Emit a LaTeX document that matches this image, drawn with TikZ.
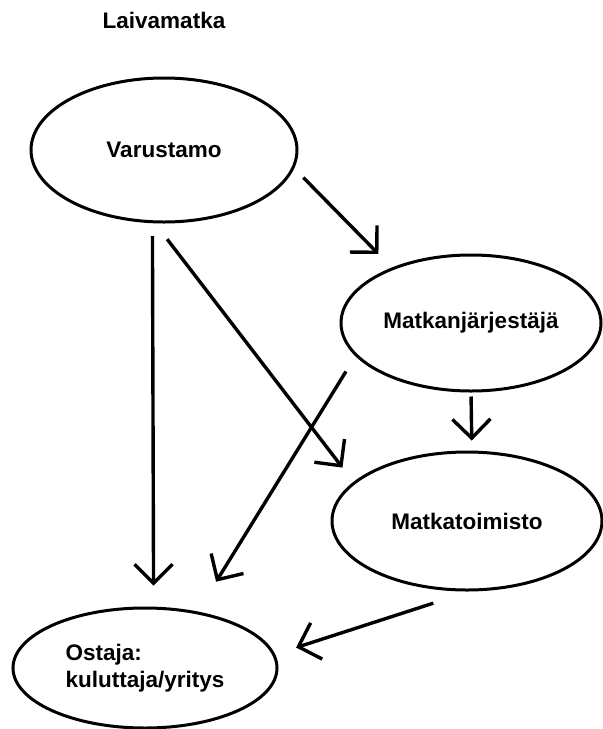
\documentclass[tikz,border=0pt]{standalone}
\usepackage{fontspec}
\setmainfont{Liberation Sans}
\usetikzlibrary{shapes,positioning}
\usetikzlibrary{arrows.meta}
\tikzset{>={Straight Barb[width=19pt,length=9.5pt]}}

\begin{document}
\begin{tikzpicture}[x=0.5pt, y=-0.5pt]
          \tikzstyle{enode} = [draw, line width=1.5pt, ellipse, inner sep=0pt, align=center, font=\bfseries\fontsize{11.25}{13.5}\selectfont]
          \tikzstyle{tnode} = [inner sep=1.5pt, align=left, font=\bfseries\fontsize{11.25}{13.5}\selectfont]
          \tikzstyle{conn} = [->, line width=1.7pt]
          \useasboundingbox (0,0) rectangle (603,729);
          \node[enode, minimum width=133pt, minimum height=72pt] (var) at (164,150) {Varustamo};
          \node[tnode, above = 22pt of var] (title) {Laivamatka};
          \node[enode, minimum width=130pt, minimum height=68pt] (mj) at (471,323) {Matkanjärjestäjä};
          \node[enode, minimum width=135pt, minimum height=69pt] (mt) at (467,521) {Matkatoimisto};
          \node[enode, minimum width=132pt, minimum height=60pt, align=left] (os) at (145,668) {Ostaja:\\kuluttaja/yritys};

          \draw[conn, shorten <=6.5pt, shorten >=9.5pt] (var.-8) -- (mj.145);
          \draw[conn, shorten <=6.5pt, shorten >=10.5pt] (var.-99) -- (os.82);
          \draw[conn, shorten <=10pt, shorten >=9pt] (var.-97) -- (mt.161);
          \draw[conn, shorten <=9pt, shorten >=17.5pt] (mj.196) -- (os.47);
          \draw[conn, shorten <=2pt, shorten >=5pt] (mj.-90) -- (mt.86);
          \draw[conn, shorten <=19pt, shorten >=11pt] (mt.-88) -- (os.6);
        \end{tikzpicture}
\end{document}
